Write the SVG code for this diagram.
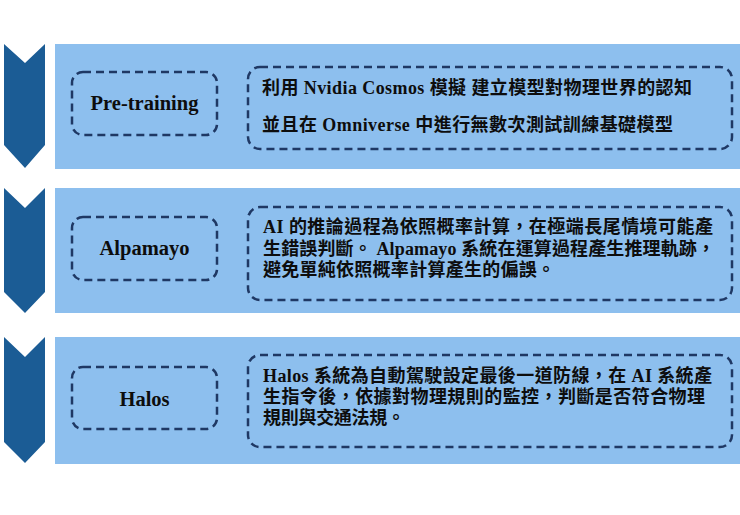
<svg xmlns="http://www.w3.org/2000/svg" width="740" height="515" viewBox="0 0 740 515">
<style>
.panel{fill:#8dbfee;}
.chev{fill:#1b5c95;}
.box{fill:none;stroke:#1f3864;stroke-width:2.5;stroke-dasharray:8 5;}
.lbl{font-family:"Liberation Serif","Noto Sans CJK TC",serif;font-weight:bold;font-size:20.5px;fill:#0d0d0d;text-anchor:middle;}
.txt{font-family:"Liberation Serif","Noto Sans CJK TC",serif;font-weight:bold;font-size:18px;fill:#0d0d0d;}
</style>
<rect width="740" height="515" fill="#ffffff"/>
<g id="connectors">
<path class="chev" d="M4,44 L25,63 L45,44 L45,145 L25,168 L4,145 Z"/>
<path class="chev" d="M4,188 L25,208 L45,188 L45,292 L25,313 L4,292 Z"/>
<path class="chev" d="M4,337 L25,357 L45,337 L45,442 L25,463 L4,442 Z"/>
</g>
<g id="stage-pretraining">
<rect class="panel" x="55" y="44" width="685" height="125"/>
<rect class="box" x="72" y="72" width="145" height="63" rx="11"/>
<text class="lbl" x="144.5" y="110">Pre-training</text>
<rect class="box" x="248" y="67" width="484" height="82" rx="12"/>
<text class="txt" x="262" y="94" textLength="430">利用 Nvidia Cosmos 模擬 建立模型對物理世界的認知</text>
<text class="txt" x="262" y="131" textLength="411">並且在 Omniverse 中進行無數次測試訓練基礎模型</text>
</g>
<g id="stage-alpamayo">
<rect class="panel" x="55" y="188" width="685" height="125"/>
<rect class="box" x="72" y="217" width="145" height="63" rx="11"/>
<text class="lbl" x="144.5" y="255">Alpamayo</text>
<rect class="box" x="248" y="207" width="484" height="93" rx="12"/>
<text class="txt" x="263" y="233" textLength="450">AI 的推論過程為依照概率計算，在極端長尾情境可能產</text>
<text class="txt" x="263" y="255" textLength="452">生錯誤判斷。 Alpamayo 系統在運算過程產生推理軌跡，</text>
<text class="txt" x="263" y="276" textLength="292">避免單純依照概率計算產生的偏誤。</text>
</g>
<g id="stage-halos">
<rect class="panel" x="55" y="337" width="685" height="127"/>
<rect class="box" x="72" y="367" width="145" height="62" rx="11"/>
<text class="lbl" x="144.5" y="406">Halos</text>
<rect class="box" x="248" y="355" width="484" height="92" rx="12"/>
<text class="txt" x="263" y="382" textLength="449">Halos 系統為自動駕駛設定最後一道防線，在 AI 系統產</text>
<text class="txt" x="263" y="403" textLength="442">生指令後，依據對物理規則的監控，判斷是否符合物理</text>
<text class="txt" x="263" y="424" textLength="142">規則與交通法規。</text>
</g>
</svg>
